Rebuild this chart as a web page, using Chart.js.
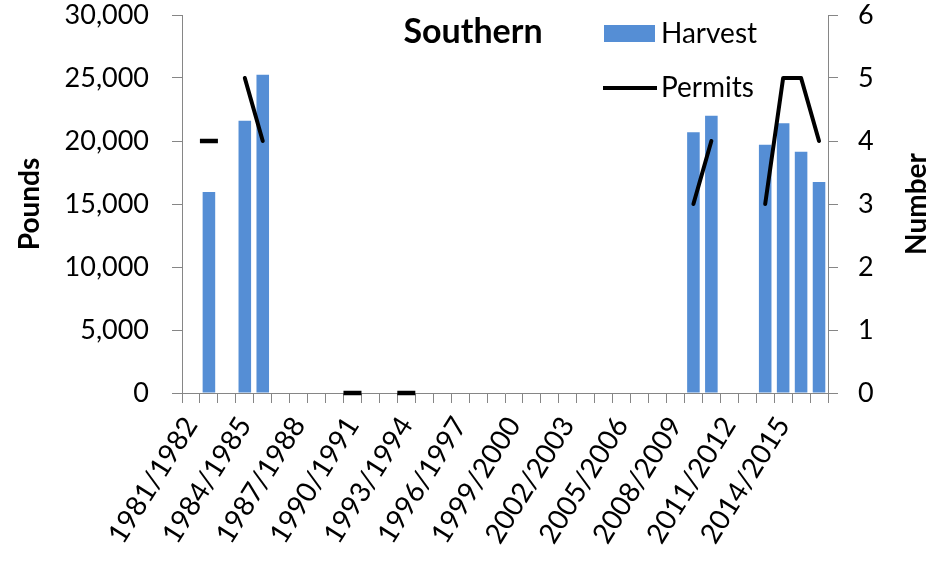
<!DOCTYPE html>
<html>
<head>
<meta charset="utf-8">
<title>Southern</title>
<script src="https://cdn.jsdelivr.net/npm/chart.js@4.4.1/dist/chart.umd.min.js"></script>
<style>
  html, body { margin: 0; padding: 0; background: #fff; }
  #wrap { width: 933px; height: 570px; position: relative; }
</style>
</head>
<body>
<div id="wrap"><canvas id="southernChart"></canvas></div>
<script>
// seasons along the bottom
const seasons = [
  '1981/1982', '1982/1983', '1983/1984', '1984/1985', '1985/1986', '1986/1987',
  '1987/1988', '1988/1989', '1989/1990', '1990/1991', '1991/1992', '1992/1993',
  '1993/1994', '1994/1995', '1995/1996', '1996/1997', '1997/1998', '1998/1999',
  '1999/2000', '2000/2001', '2001/2002', '2002/2003', '2003/2004', '2004/2005',
  '2005/2006', '2006/2007', '2007/2008', '2008/2009', '2009/2010', '2010/2011',
  '2011/2012', '2012/2013', '2013/2014', '2014/2015', '2015/2016', '2016/2017'
];
// only every third season gets a label
const seasonTicks = [
  '1981/1982', '1984/1985', '1987/1988', '1990/1991', '1993/1994', '1996/1997',
  '1999/2000', '2002/2003', '2005/2006', '2008/2009', '2011/2012', '2014/2015'
];

// harvest in pounds (left axis)
const harvest = [
  null, 15950, null, 21600, 25250, null, null, null, null, null, null, null,
  null, null, null, null, null, null, null, null, null, null, null, null,
  null, null, null, null, 20700, 22000, null, null, 19700, 21400, 19150, 16750
];
// number of permits (right axis)
const permits = [
  null, 4, null, 5, 4, null, null, null, null, 0, null, null,
  0, null, null, null, null, null, null, null, null, null, null, null,
  null, null, null, null, 3, 4, null, null, 3, 5, 5, 4
];

const barBlue = '#558ed5';
const axisGray = '#868686';
const fontName = 'Lato';

// a point with no neighbour gets a short dash, like the original
function lonePoint(ctx) {
  const d = ctx.dataset.data, i = ctx.dataIndex;
  if (d[i] == null) return 0;
  const prev = i > 0 ? d[i - 1] : null;
  const next = i < d.length - 1 ? d[i + 1] : null;
  return (prev == null && next == null) ? 9 : 0;
}

// keep the axis label padding out of the layout so the plot reaches the top
function noPad(s) {
  s.paddingTop = 0;
  s.paddingBottom = 0;
}

// title, legend and right axis title
const overlay = {
  id: 'overlay',
  afterDraw(chart) {
    const ctx = chart.ctx;
    const sets = chart.data.datasets;
    ctx.save();
    ctx.fillStyle = '#000';
    ctx.textBaseline = 'middle';
    ctx.textAlign = 'center';
    ctx.font = 'bold 34px ' + fontName;
    ctx.fillText('Southern', 473, 32);

    ctx.fillStyle = barBlue;
    ctx.fillRect(604, 25, 51, 17);
    ctx.strokeStyle = '#000';
    ctx.lineWidth = 4;
    ctx.beginPath();
    ctx.moveTo(603, 88);
    ctx.lineTo(657, 88);
    ctx.stroke();

    ctx.fillStyle = '#000';
    ctx.textAlign = 'left';
    ctx.font = '28px ' + fontName;
    ctx.fillText(sets[0].label, 661, 34);
    ctx.fillText(sets[1].label, 661, 88);

    ctx.translate(917, 204);
    ctx.rotate(-Math.PI / 2);
    ctx.textAlign = 'center';
    ctx.font = 'bold 28px ' + fontName;
    ctx.fillText('Number', 0, 0);
    ctx.restore();
  }
};

const ctx = document.getElementById('southernChart').getContext('2d');
new Chart(ctx, {
  type: 'bar',
  data: {
    labels: seasons,
    datasets: [{
      label: 'Harvest',
      data: harvest,
      backgroundColor: barBlue,
      yAxisID: 'y',
      barPercentage: 0.7,
      categoryPercentage: 1,
      order: 1
    }, {
      type: 'line',
      label: 'Permits',
      data: permits,
      yAxisID: 'y1',
      borderColor: '#000',
      borderWidth: 4,
      borderCapStyle: 'round',
      borderJoinStyle: 'round',
      spanGaps: false,
      clip: false,
      pointStyle: 'line',
      pointRadius: lonePoint,
      pointBorderColor: '#000',
      pointBorderWidth: 4.5,
      pointHoverRadius: 0,
      order: 0
    }]
  },
  options: {
    responsive: true,
    maintainAspectRatio: false,
    animation: false,
    layout: { padding: { top: 15, left: 0, right: 0, bottom: 0 } },
    plugins: { legend: { display: false }, tooltip: { enabled: false } },
    scales: {
      x: {
        offset: true,
        grid: { offset: true, drawOnChartArea: false, tickLength: 10, color: axisGray },
        border: { display: true, color: axisGray },
        ticks: {
          autoSkip: false,
          minRotation: 58,
          maxRotation: 58,
          padding: 8,
          color: '#000',
          font: { family: fontName, size: 28 },
          callback: function (v, i) {
            const s = seasons[i];
            return seasonTicks.includes(s) ? s : '';
          }
        },
        afterFit(s) {
          s.height = 177;
          s.paddingLeft = 0;
          s.paddingRight = 0;
        }
      },
      y: {
        position: 'left',
        min: 0,
        max: 30000,
        grid: { drawOnChartArea: false, tickLength: 10, color: axisGray },
        border: { display: true, color: axisGray },
        ticks: {
          stepSize: 5000,
          padding: 23,
          color: '#000',
          font: { family: fontName, size: 27 },
          callback: v => v.toLocaleString('en-US')
        },
        title: {
          display: true,
          text: 'Pounds',
          color: '#000',
          font: { family: fontName, size: 28, weight: 'bold' },
          padding: { top: 13, bottom: 0 }
        },
        afterFit(s) {
          s.width = 182;
          noPad(s);
        }
      },
      y1: {
        position: 'right',
        min: 0,
        max: 6,
        grid: { drawOnChartArea: false, tickLength: 10, color: axisGray },
        border: { display: true, color: axisGray },
        ticks: {
          stepSize: 1,
          padding: 20,
          color: '#000',
          font: { family: fontName, size: 27 }
        },
        afterFit(s) {
          s.width = 105;
          noPad(s);
        }
      }
    }
  },
  plugins: [overlay]
});
</script>
</body>
</html>
